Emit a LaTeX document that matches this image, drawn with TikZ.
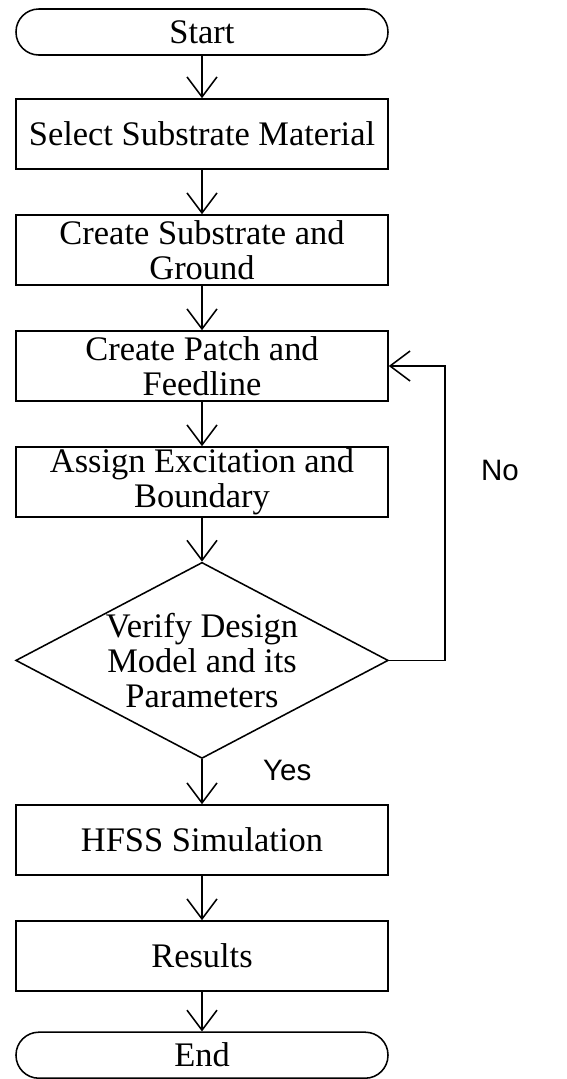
\documentclass[tikz,border=0pt]{standalone}
\usepackage{fontspec}
\setmainfont{Liberation Serif}
\newfontfamily\labelfont{Liberation Sans}
\usetikzlibrary{arrows.meta,shapes.geometric}

\begin{document}
\begin{tikzpicture}[font=\fontsize{24.5}{25}\selectfont, line width=1.1pt,
  box/.style={draw, minimum width=9.3cm, minimum height=1.75cm, inner sep=0pt, align=center},
  term/.style={draw, rounded corners=0.57cm, minimum width=9.3cm, minimum height=1.15cm, inner sep=0pt},
  decision/.style={draw, diamond, aspect=1.9, minimum width=9.25cm, minimum height=4.875cm, inner sep=0pt, align=center},
  flow/.style={-{Straight Barb[length=0.5cm,width=0.75cm]}},
  lab/.style={font=\labelfont\fontsize{21}{23}\selectfont}]
  \useasboundingbox (0,0) rectangle (14.175,-26.975);
  \node[term] (start) at (5.05,-0.8) {Start};
  \node[box] (select) at (5.05,-3.35) {Select Substrate Material};
  \node[box] (ground) at (5.05,-6.25) {Create Substrate and\\Ground};
  \node[box] (patch) at (5.05,-9.15) {Create Patch and\\Feedline};
  \node[box] (assign) at (5.05,-12.05) {Assign Excitation and\\Boundary};
  \node[decision] (verify) at (5.05,-16.51) {Verify Design\\Model and its\\Parameters};
  \node[box] (hfss) at (5.05,-21.0) {HFSS Simulation};
  \node[box] (results) at (5.05,-23.9) {Results};
  \node[term] (end) at (5.05,-26.38) {End};
  \node[lab] (no) at (12.5,-11.75) {No};
  \node[lab] (yes) at (7.18,-19.25) {Yes};
  \draw[flow] (start) -- (select);
  \draw[flow] (select) -- (ground);
  \draw[flow] (ground) -- (patch);
  \draw[flow] (patch) -- (assign);
  \draw[flow] (assign) -- (verify);
  \draw[flow] (verify) -- (hfss);
  \draw[flow] (hfss) -- (results);
  \draw[flow] (results) -- (end);
  \draw[flow] (verify.east) -- ++(1.4,0) |- (patch.east);
\end{tikzpicture}
\end{document}
